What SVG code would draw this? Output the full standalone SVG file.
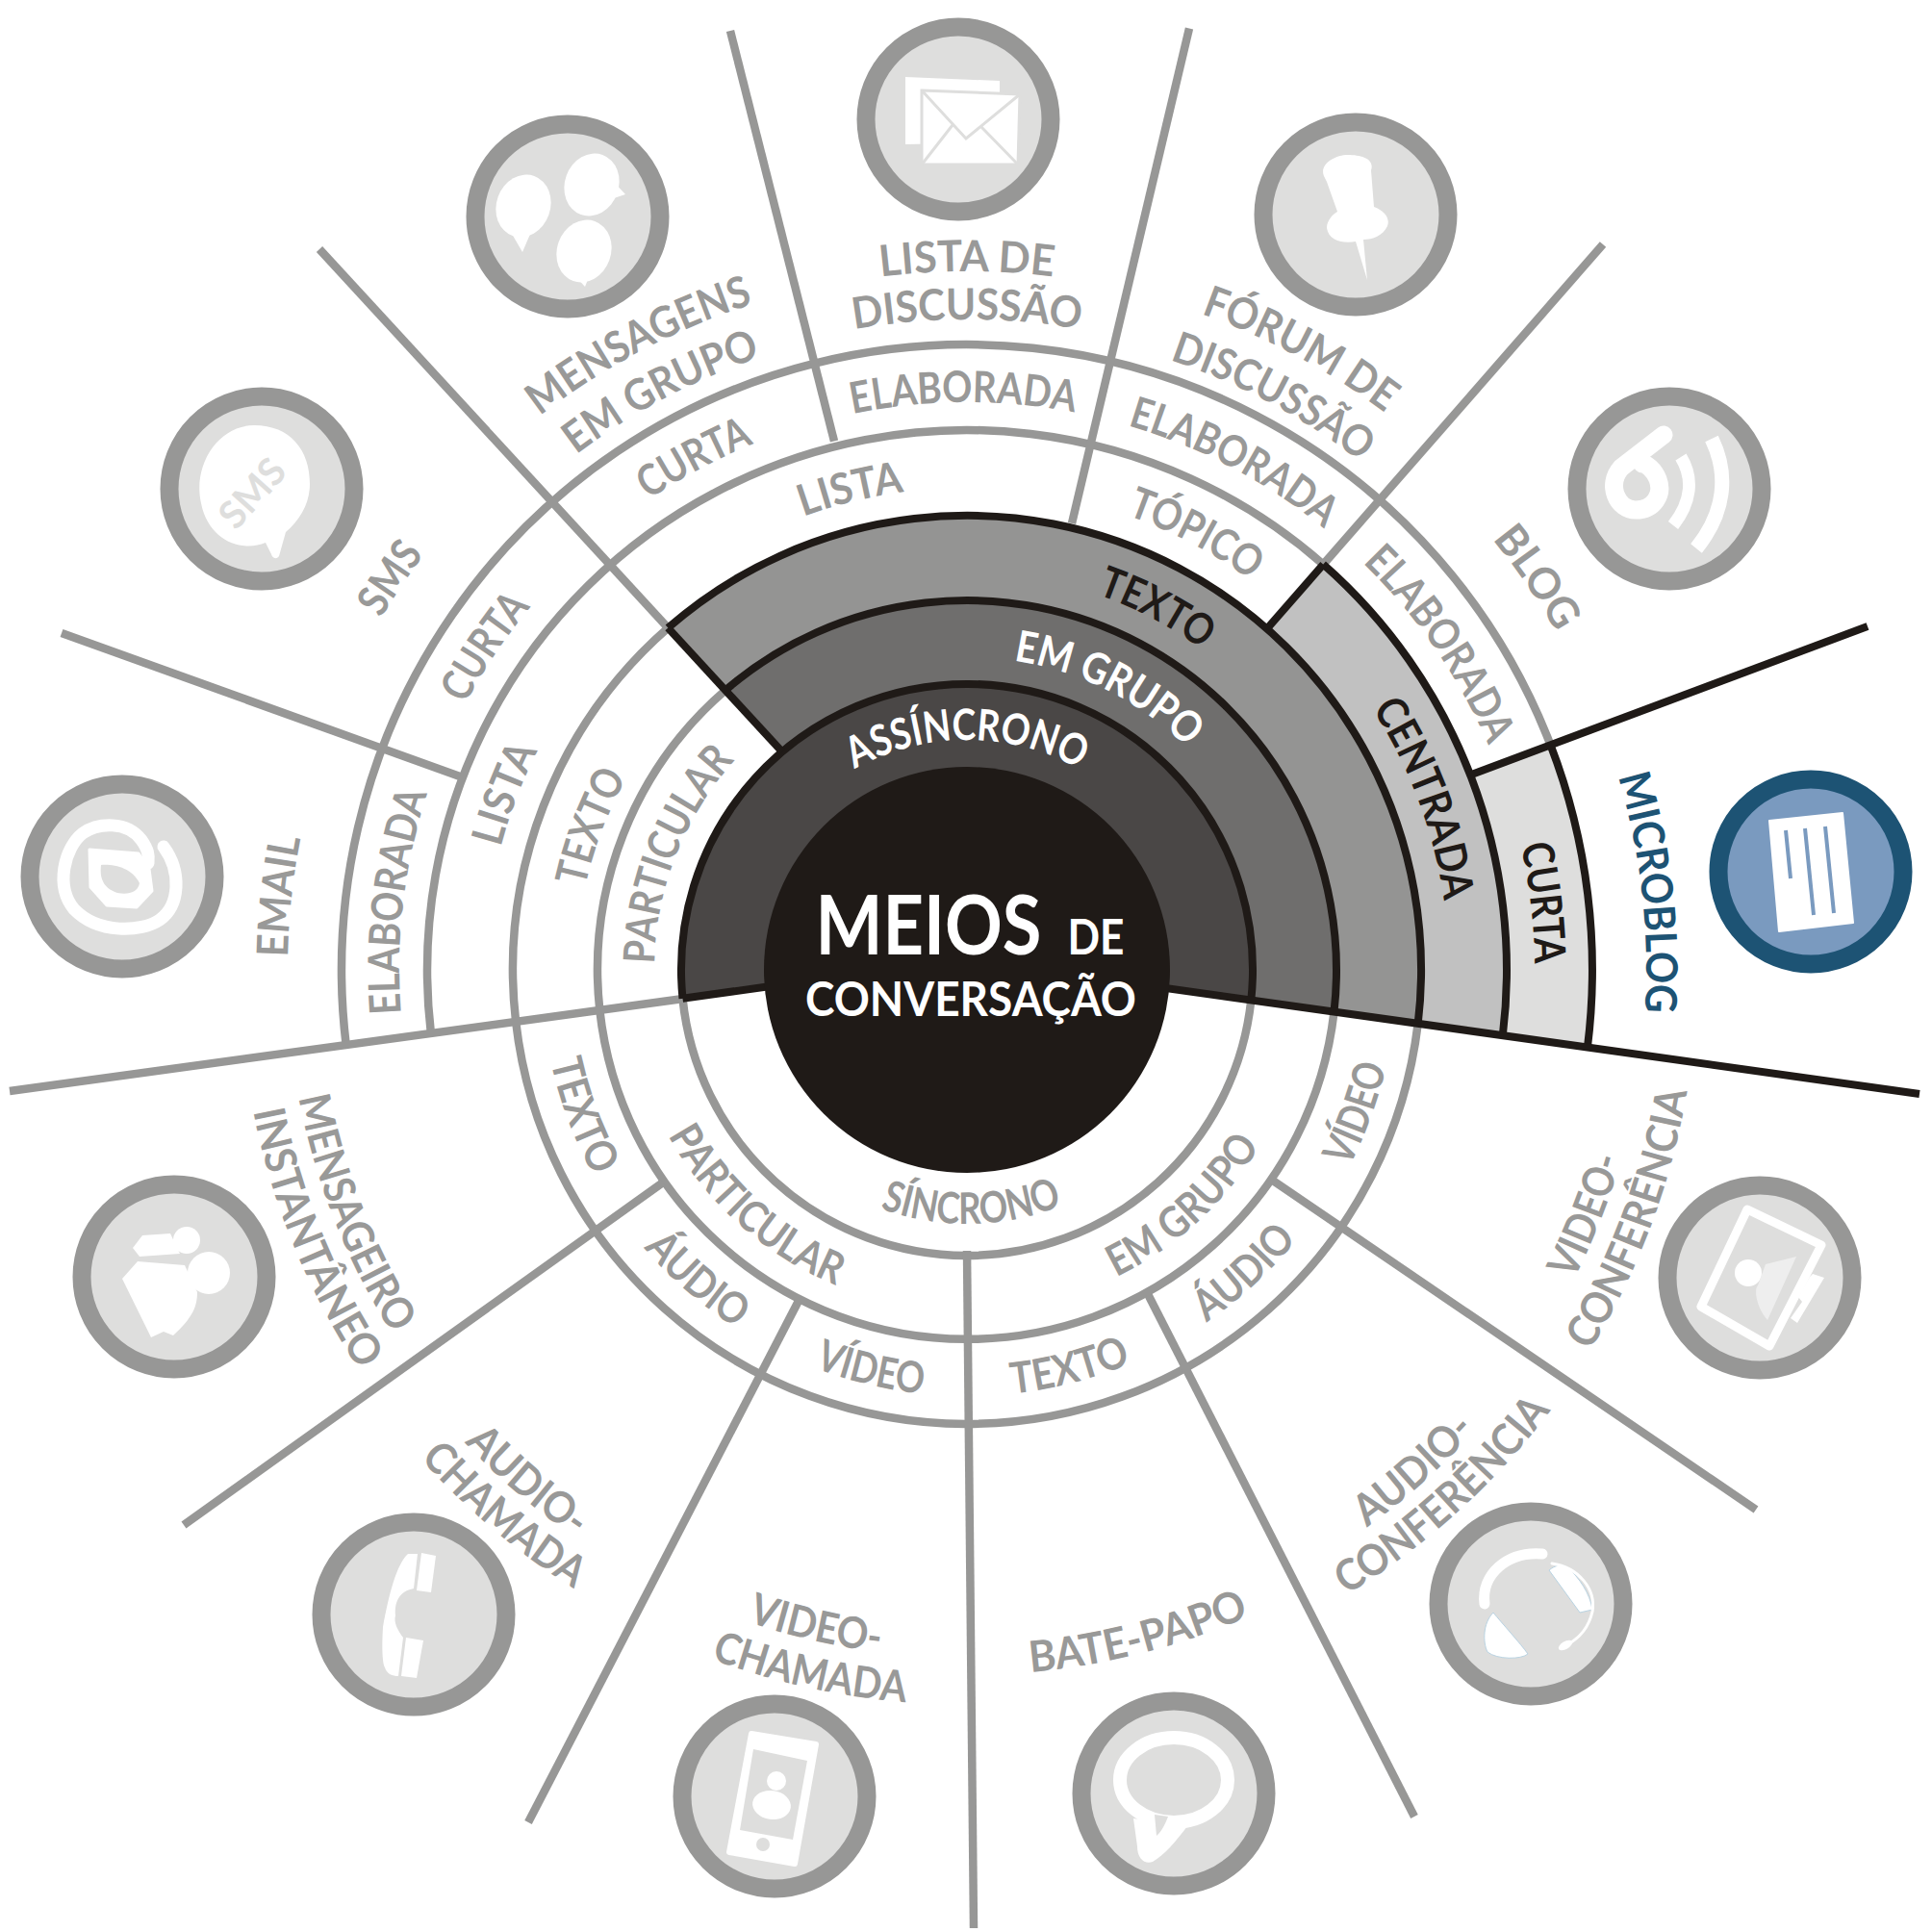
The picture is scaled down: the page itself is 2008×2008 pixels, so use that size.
<svg xmlns="http://www.w3.org/2000/svg" width="2008" height="2008" viewBox="0 0 2008 2008">
<style>
text{font-family:Lato,"Open Sans","Noto Sans",sans-serif;font-size:45px;font-weight:700;fill:#999998;text-anchor:middle}
.o{transform:translate(1005px,1008px)}
.k{fill:#1f1a17}.w{fill:#fff}.b{fill:#1d5374}
.g,.s{fill:none}
.g{stroke:#979796;stroke-width:8.5}
.s{stroke:#1f1a17;stroke-width:8}
.badge{fill:#dededd;stroke:#979796;stroke-width:19}
.wi{fill:#fff}.wl{fill:none;stroke:#fff;stroke-linecap:round;stroke-linejoin:round}
.di{fill:#dededd}
</style>
<defs>
<path id="c239" d="M0,239A239,239 0 1 1 0,-239A239,239 0 1 1 0,239"/>
<path id="c325" d="M0,325A325,325 0 1 1 0,-325A325,325 0 1 1 0,325"/>
<path id="c413" d="M0,413A413,413 0 1 1 0,-413A413,413 0 1 1 0,413"/>
<path id="c406" d="M0,406A406,406 0 1 1 0,-406A406,406 0 1 1 0,406"/>
<path id="c501" d="M0,501A501,501 0 1 1 0,-501A501,501 0 1 1 0,501"/>
<path id="c590" d="M0,590A590,590 0 1 1 0,-590A590,590 0 1 1 0,590"/>
<path id="c706" d="M0,706A706,706 0 1 1 0,-706A706,706 0 1 1 0,706"/>
<path id="c710" d="M0,710A710,710 0 1 1 0,-710A710,710 0 1 1 0,710"/>
<path id="c727" d="M0,727A727,727 0 1 1 0,-727A727,727 0 1 1 0,727"/>
<path id="c672" d="M0,672A672,672 0 1 1 0,-672A672,672 0 1 1 0,672"/>
<path id="c726" d="M0,726A726,726 0 1 1 0,-726A726,726 0 1 1 0,726"/>
<path id="c676" d="M0,676A676,676 0 1 1 0,-676A676,676 0 1 1 0,676"/>
<path id="c724" d="M0,724A724,724 0 1 1 0,-724A724,724 0 1 1 0,724"/>
<path id="c668" d="M0,668A668,668 0 1 1 0,-668A668,668 0 1 1 0,668"/>
<path id="a264" d="M0,-264A264,264 0 1 0 0,264A264,264 0 1 0 0,-264"/>
<path id="a355" d="M0,-355A355,355 0 1 0 0,355A355,355 0 1 0 0,-355"/>
<path id="a443" d="M0,-443A443,443 0 1 0 0,443A443,443 0 1 0 0,-443"/>
<path id="a447" d="M0,-447A447,447 0 1 0 0,447A447,447 0 1 0 0,-447"/>
<path id="a759" d="M0,-759A759,759 0 1 0 0,759A759,759 0 1 0 0,-759"/>
<path id="a708" d="M0,-708A708,708 0 1 0 0,708A708,708 0 1 0 0,-708"/>
<path id="a713" d="M0,-713A713,713 0 1 0 0,713A713,713 0 1 0 0,-713"/>
<path id="a760" d="M0,-760A760,760 0 1 0 0,760A760,760 0 1 0 0,-760"/>
<path id="a733" d="M0,-733A733,733 0 1 0 0,733A733,733 0 1 0 0,-733"/>
<path id="a715" d="M0,-715A715,715 0 1 0 0,715A715,715 0 1 0 0,-715"/>
<path id="a764" d="M0,-764A764,764 0 1 0 0,764A764,764 0 1 0 0,-764"/>
<path id="a717" d="M0,-717A717,717 0 1 0 0,717A717,717 0 1 0 0,-717"/>
<path id="a762" d="M0,-762A762,762 0 1 0 0,762A762,762 0 1 0 0,-762"/>
<path id="a707" d="M0,-707A707,707 0 1 0 0,707A707,707 0 1 0 0,-707"/>
<path id="a756" d="M0,-756A756,756 0 1 0 0,756A756,756 0 1 0 0,-756"/>
</defs>
<rect width="2008" height="2008" fill="#fff"/>

<g id="wedges" transform="translate(1005,1008)">
<path fill="#dededd" d="M523.1,-202.5L606.5,-233.7A650,650 0 0 1 644.9,80.8L556.8,68.4A561,561 0 0 0 523.1,-202.5Z"/>
<path fill="#c1c1c1" d="M311.7,-354.4L370.3,-421.4A561,561 0 0 1 556.8,68.4L468.7,56A472,472 0 0 0 311.7,-354.4Z"/>
<path fill="#949493" d="M-251,-290.6L-310.7,-355.4A472,472 0 0 1 468.7,56L381.5,43.7A384,384 0 0 0 -251,-290.6Z"/>
<path fill="#6f6e6d" d="M-192.1,-226.6L-251,-290.6A384,384 0 0 1 381.5,43.7L295.3,31.6A297,297 0 0 0 -192.1,-226.6Z"/>
<path fill="#4a4746" d="M-295.5,29.8A297,297 0 1 1 295.3,31.6L0,-10Z"/>
</g>

<g id="connectors" transform="translate(1005,1008)">
<g class="g">
<path d="M-645.3,78A650,650 0 0 1 606.5,-233.7"/>
<path d="M-557.1,65.9A561,561 0 0 1 370.3,-421.4"/>
<path d="M-468.9,53.7A472,472 0 0 1 -310.7,-355.4"/>
<path d="M468.7,56A472,472 0 0 1 -468.9,53.7"/>
<path d="M-381.7,41.7A384,384 0 0 1 -251,-290.6"/>
<path d="M381.5,43.7A384,384 0 0 1 -381.7,41.7"/>
<path d="M295.3,31.6A297,297 0 0 1 -295.5,29.8"/>
<path d="M-995,126L-295,30"/>
<path d="M-673,-749L-310.7,-355.4"/>
<path d="M-941,-350L-527,-201"/>
<path d="M-246,-976L-138,-549.5"/>
<path d="M231,-978.5L109,-464"/>
<path d="M661,-754L370.3,-421.4"/>
<path d="M820,561L318,219"/>
<path d="M465,880L188.5,338"/>
<path d="M7,996L0,292"/>
<path d="M-456,886L-175,344"/>
<path d="M-814,577L-316,221"/>
</g>
<g class="s">
<path d="M606.5,-233.7A650,650 0 0 1 644.9,80.8"/>
<path d="M370.3,-421.4A561,561 0 0 1 556.8,68.4"/>
<path d="M-310.7,-355.4A472,472 0 0 1 468.7,56"/>
<path d="M-251,-290.6A384,384 0 0 1 381.5,43.7"/>
<path d="M-295.5,29.8A297,297 0 1 1 295.3,31.6"/>
<path d="M0,-10L990,129"/>
<path d="M-295.5,29.8L-190,15"/>
<path d="M-310.7,-355.4L-192.1,-226.6"/>
<path d="M311.7,-354.4L370.3,-421.4"/>
<path d="M523.1,-202.5L936,-357"/>
</g>
</g>

<g id="center">
<circle class="k" cx="1005" cy="1008" r="211"/>
<text x="965" y="992" style="font-size:86px;font-weight:700;fill:#fff" textLength="235" lengthAdjust="spacingAndGlyphs">MEIOS</text>
<text x="1139" y="992" style="font-size:52px;font-weight:700;fill:#fff" textLength="59" lengthAdjust="spacingAndGlyphs">DE</text>
<text x="1009" y="1056" style="font-size:50px;font-weight:700;fill:#fff" textLength="344" lengthAdjust="spacingAndGlyphs">CONVERSAÇÃO</text>
</g>

<g id="ring-labels">
<text class="o" style="fill:#fff"><textPath href="#c239" startOffset="50%" textLength="244" lengthAdjust="spacingAndGlyphs">ASSÍNCRONO</textPath></text>
<text class="o" style="fill:#fff"><textPath href="#c325" startOffset="57.4%" textLength="205" lengthAdjust="spacingAndGlyphs">EM GRUPO</textPath></text>
<text class="o" style="fill:#1f1a17"><textPath href="#c413" startOffset="57.7%" textLength="124" lengthAdjust="spacingAndGlyphs">TEXTO</textPath></text>
<text class="o" style="fill:#1f1a17"><textPath href="#c501" startOffset="69.3%" textLength="215" lengthAdjust="spacingAndGlyphs">CENTRADA</textPath></text>
<text class="o" style="fill:#1f1a17"><textPath href="#c590" startOffset="73.15%" textLength="124" lengthAdjust="spacingAndGlyphs">CURTA</textPath></text>
<text class="o"><textPath href="#c325" startOffset="31%" textLength="232" lengthAdjust="spacingAndGlyphs">PARTICULAR</textPath></text>
<text class="o"><textPath href="#c406" startOffset="30.8%" textLength="122" lengthAdjust="spacingAndGlyphs">TEXTO</textPath></text>
<text class="o"><textPath href="#c501" startOffset="30.8%" textLength="108" lengthAdjust="spacingAndGlyphs">LISTA</textPath></text>
<text class="o"><textPath href="#c501" startOffset="46.2%" textLength="108" lengthAdjust="spacingAndGlyphs">LISTA</textPath></text>
<text class="o"><textPath href="#c501" startOffset="57.7%" textLength="146" lengthAdjust="spacingAndGlyphs">TÓPICO</textPath></text>
<text class="o"><textPath href="#c590" startOffset="26.9%" textLength="232" lengthAdjust="spacingAndGlyphs">ELABORADA</textPath></text>
<text class="o"><textPath href="#c590" startOffset="34.4%" textLength="122" lengthAdjust="spacingAndGlyphs">CURTA</textPath></text>
<text class="o"><textPath href="#c590" startOffset="42.2%" textLength="124" lengthAdjust="spacingAndGlyphs">CURTA</textPath></text>
<text class="o"><textPath href="#c590" startOffset="49.9%" textLength="232" lengthAdjust="spacingAndGlyphs">ELABORADA</textPath></text>
<text class="o"><textPath href="#c590" startOffset="57.7%" textLength="232" lengthAdjust="spacingAndGlyphs">ELABORADA</textPath></text>
<text class="o"><textPath href="#c590" startOffset="65.4%" textLength="232" lengthAdjust="spacingAndGlyphs">ELABORADA</textPath></text>
<text class="o"><textPath href="#a264" startOffset="50.3%" textLength="194" lengthAdjust="spacingAndGlyphs">SÍNCRONO</textPath></text>
<text class="o"><textPath href="#a355" startOffset="38.4%" textLength="238" lengthAdjust="spacingAndGlyphs">PARTICULAR</textPath></text>
<text class="o"><textPath href="#a355" startOffset="61.8%" textLength="205" lengthAdjust="spacingAndGlyphs">EM GRUPO</textPath></text>
<text class="o"><textPath href="#a443" startOffset="30.75%" textLength="128" lengthAdjust="spacingAndGlyphs">TEXTO</textPath></text>
<text class="o"><textPath href="#a443" startOffset="38.6%" textLength="128" lengthAdjust="spacingAndGlyphs">ÁUDIO</textPath></text>
<text class="o"><textPath href="#a443" startOffset="46.25%" textLength="116" lengthAdjust="spacingAndGlyphs">VÍDEO</textPath></text>
<text class="o"><textPath href="#a443" startOffset="54%" textLength="128" lengthAdjust="spacingAndGlyphs">TEXTO</textPath></text>
<text class="o"><textPath href="#a443" startOffset="61.8%" textLength="128" lengthAdjust="spacingAndGlyphs">ÁUDIO</textPath></text>
<text class="o"><textPath href="#a447" startOffset="69.4%" textLength="112" lengthAdjust="spacingAndGlyphs">VÍDEO</textPath></text>
</g>

<g id="node-email">
<g transform="translate(127,911)"><circle class="badge" r="96"/>
<path class="wl" stroke-width="13" d="M43,-31C62,-5 60,30 39,45C20,58 -25,60 -50,34C-70,10 -60,-30 -41,-45C-25,-56 5,-58 20,-38C27,-28 28,-22 27,-14"/>
<path class="wi" d="M-34,-28L17,-24L28,-8L31,15L15,32L-16,30L-33,11Z" stroke="#fff" stroke-width="3" stroke-linejoin="round"/>
<path class="di" d="M-22,-12C-8,-13 10,-9 18,7C16,17 6,19 -5,17C-17,13 -24,5 -22,-12Z"/>
</g>
<text class="o"><textPath href="#c706" startOffset="26.7%" textLength="124" lengthAdjust="spacingAndGlyphs">EMAIL</textPath></text>
</g>

<g id="node-sms">
<g transform="translate(272,508)"><circle class="badge" r="96"/>
<path class="wi" d="M-8,-66C30,-66 50,-40 50,-5C50,15 40,32 25,45L18,70C15,74 11,72 10,68L4,56C-20,66 -55,55 -63,15C-72,-25 -45,-66 -8,-66Z"/>
<text x="0" y="0" transform="translate(-7,7) rotate(-48)" style="font-size:40px;font-weight:700;fill:#dededd;dominant-baseline:middle">SMS</text>
</g>
<text class="o"><textPath href="#c710" startOffset="34.5%" textLength="80" lengthAdjust="spacingAndGlyphs">SMS</textPath></text>
</g>

<g id="node-mensagens">
<g transform="translate(590,225)"><circle class="badge" r="96"/>
<ellipse class="wi" cx="-46" cy="-11" rx="28" ry="33" transform="rotate(20 -46 -11)"/>
<path class="wi" d="M-58,18L-47,37L-38,16Z"/>
<ellipse class="wi" cx="25" cy="-33" rx="28" ry="33" transform="rotate(20 25 -33)"/>
<path class="wi" d="M46,-38L60,-23L36,-15Z"/>
<ellipse class="wi" cx="17" cy="36" rx="28" ry="33" transform="rotate(20 17 36)"/>
<path class="wi" d="M6,60L18,73L24,58Z"/>
</g>
<text class="o"><textPath href="#c727" startOffset="42.3%" textLength="252" lengthAdjust="spacingAndGlyphs">MENSAGENS</textPath></text>
<text class="o"><textPath href="#c672" startOffset="42.25%" textLength="218" lengthAdjust="spacingAndGlyphs">EM GRUPO</textPath></text>
</g>

<g id="node-lista">
<g transform="translate(996,124)"><circle class="badge" r="96"/>
<path class="wi" d="M-55,-44L43,-40L43,24L-55,26Z"/>
<path d="M-38,-30L64,-26L62,47L-38,47Z" fill="#fff" stroke="#dededd" stroke-width="3"/>
<path d="M-38,-30L8,20L64,-26M-38,47L-6,6M62,47L24,8" fill="none" stroke="#dededd" stroke-width="3"/>
</g>
<text class="o"><textPath href="#c726" startOffset="50%" textLength="180" lengthAdjust="spacingAndGlyphs">LISTA DE</textPath></text>
<text class="o"><textPath href="#c676" startOffset="50%" textLength="236" lengthAdjust="spacingAndGlyphs">DISCUSSÃO</textPath></text>
</g>

<g id="node-forum">
<g transform="translate(1409,223)"><circle class="badge" r="96"/>
<path class="wi" d="M-33,-40C-38,-52 -22,-62 -8,-62C6,-62 20,-58 16,-46L19,-8C30,-4 36,4 33,12C28,22 18,26 8,26L12,68L0,28C-12,30 -28,28 -30,14C-30,6 -24,0 -19,-3L-30,-34Z"/>
</g>
<text class="o"><textPath href="#c724" startOffset="57.85%" textLength="218" lengthAdjust="spacingAndGlyphs">FÓRUM DE</textPath></text>
<text class="o"><textPath href="#c668" startOffset="57.8%" textLength="226" lengthAdjust="spacingAndGlyphs">DISCUSSÃO</textPath></text>
</g>

<g id="node-blog">
<g transform="translate(1735,508)"><circle class="badge" r="96"/>
<path class="wl" stroke-width="19" d="M-6,-56L-50,-22C-66,-4 -54,22 -35,22C-16,22 -6,6 -12,-10C-16,-20 -24,-26 -28,-26"/>
<path d="M12,-33C26,-10 22,15 4,38" fill="none" stroke="#fff" stroke-width="13"/>
<path d="M44,-52C62,-15 58,25 28,62" fill="none" stroke="#fff" stroke-width="15"/>
</g>
<text class="o"><textPath href="#c706" startOffset="65.4%" textLength="118" lengthAdjust="spacingAndGlyphs">BLOG</textPath></text>
</g>

<g id="node-microblog">
<g transform="translate(1882,906)"><circle r="96" fill="#7a9abf" stroke="#1d5374" stroke-width="19"/>
<path class="wi" d="M-43,-53L33,-61L44,53L-33,62Z" stroke="#fff" stroke-width="2" stroke-linejoin="round"/>
<path d="M-26,-43L-21,7M-6,-45L3,45M15,-47L24,43" fill="none" stroke="#7a9abf" stroke-width="4"/>
</g>
<text class="o" style="fill:#1d5374"><textPath href="#c706" startOffset="73.2%" textLength="248" lengthAdjust="spacingAndGlyphs">MICROBLOG</textPath></text>
</g>

<g id="node-videoconferencia">
<g transform="translate(1829,1328)"><circle class="badge" r="96"/>
<path d="M-13,-71L64,-34L10,71L-61,30Z" fill="none" stroke="#fff" stroke-width="9" stroke-linejoin="round"/>
<circle class="wi" cx="-12" cy="-5" r="14"/>
<path fill="#eee" d="M6,-14L38,-22L8,44C-4,30 -6,12 -2,8Z"/>
<path class="wi" d="M55,-4L67,0L39,47L32,42L44,25L40,20L52,-1Z"/>
</g>
<text class="o"><textPath href="#a708" startOffset="69%" textLength="136" lengthAdjust="spacingAndGlyphs">VIDEO-</textPath></text>
<text class="o"><textPath href="#a759" startOffset="69.3%" textLength="290" lengthAdjust="spacingAndGlyphs">CONFERÊNCIA</textPath></text>
</g>

<g id="node-audioconferencia">
<g transform="translate(1591,1667)"><circle class="badge" r="96"/>
<path class="wi" stroke="#b9d3e2" stroke-width="1" d="M-39,9C-30,20 -10,42 -3,52C-10,58 -35,58 -45,50C-50,40 -50,20 -39,9Z"/>
<path class="wi" stroke="#b9d3e2" stroke-width="1" d="M19,-35C25,-40 32,-42 38,-38C50,-28 62,-10 64,6L51,9Z"/>
<path class="wl" stroke-width="11" d="M-48,0C-52,-30 -25,-55 12,-52"/>
<path class="wl" stroke-width="3" d="M22,-42C50,-38 68,-15 64,8C60,26 50,36 37,43"/>
<ellipse class="wi" cx="36" cy="43" rx="8" ry="4" transform="rotate(-30 36 43)"/>
</g>
<text class="o"><textPath href="#a713" startOffset="61.6%" textLength="152" lengthAdjust="spacingAndGlyphs">AUDIO-</textPath></text>
<text class="o"><textPath href="#a760" startOffset="61.7%" textLength="288" lengthAdjust="spacingAndGlyphs">CONFERÊNCIA</textPath></text>
</g>

<g id="node-batepapo">
<g transform="translate(1220,1864)"><circle class="badge" r="96"/>
<path class="wi" d="M-42,26L-38,55C-38,68 -30,74 -22,71C-10,64 2,50 14,34Z"/>
<ellipse cx="0" cy="-14" rx="56" ry="44" fill="#dededd" stroke="#fff" stroke-width="14"/>
<path class="di" d="M-20,22L-18,44C-13,40 -9,32 -6,24Z"/>
</g>
<text class="o"><textPath href="#a733" startOffset="54%" textLength="236" lengthAdjust="spacingAndGlyphs">BATE-PAPO</textPath></text>
</g>

<g id="node-videochamada">
<g transform="translate(805,1867)"><circle class="badge" r="96"/>
<path class="wi" d="M-24,-65L43,-54L21,70L-47,58Z" stroke="#fff" stroke-width="6" stroke-linejoin="round"/>
<path class="di" d="M-22,-49L34,-37L19,45L-36,35Z"/>
<circle class="wi" cx="2" cy="-16" r="10"/>
<ellipse class="wi" cx="-3" cy="9" rx="20" ry="15" transform="rotate(8 -3 9)"/>
<circle class="di" cx="-12" cy="50" r="7"/>
</g>
<text class="o"><textPath href="#a715" startOffset="46.4%" textLength="142" lengthAdjust="spacingAndGlyphs">VIDEO-</textPath></text>
<text class="o"><textPath href="#a764" startOffset="46.5%" textLength="208" lengthAdjust="spacingAndGlyphs">CHAMADA</textPath></text>
</g>

<g id="node-audiochamada">
<g transform="translate(430,1678)"><circle class="badge" r="96"/>
<path class="wi" d="M-6,-63C-18,-52 -26,-20 -32,13C-33,30 -33,50 -30,55C-28,62 -22,64 -16,64L-11,24C-17,16 -21,8 -19,1C-20,-12 -16,-24 0,-27L4,-63Z"/>
<path class="wi" d="M8,-64L23,-61L18,-23L3,-25Z"/>
<path class="wi" d="M-8,24L10,27L3,66L-13,64Z"/>
</g>
<text class="o"><textPath href="#a717" startOffset="38.7%" textLength="152" lengthAdjust="spacingAndGlyphs">AUDIO-</textPath></text>
<text class="o"><textPath href="#a762" startOffset="38.8%" textLength="210" lengthAdjust="spacingAndGlyphs">CHAMADA</textPath></text>
</g>

<g id="node-mensageiro">
<g transform="translate(181,1327)"><circle class="badge" r="96"/>
<path class="wi" d="M-54,2L-38,-16L11,-12L24,16C24,30 20,42 -1,61L-11,57L-24,63Z"/>
<path class="wi" d="M-43,-30L-33,-43L-4,-45L6,-24L-36,-21Z"/>
<circle class="wi" cx="13" cy="-38" r="14"/>
<circle class="wi" cx="36" cy="-4" r="22"/>
</g>
<text class="o"><textPath href="#a707" startOffset="31%" textLength="266" lengthAdjust="spacingAndGlyphs">MENSAGEIRO</textPath></text>
<text class="o"><textPath href="#a756" startOffset="31.2%" textLength="293" lengthAdjust="spacingAndGlyphs">INSTANTÂNEO</textPath></text>
</g>
</svg>
